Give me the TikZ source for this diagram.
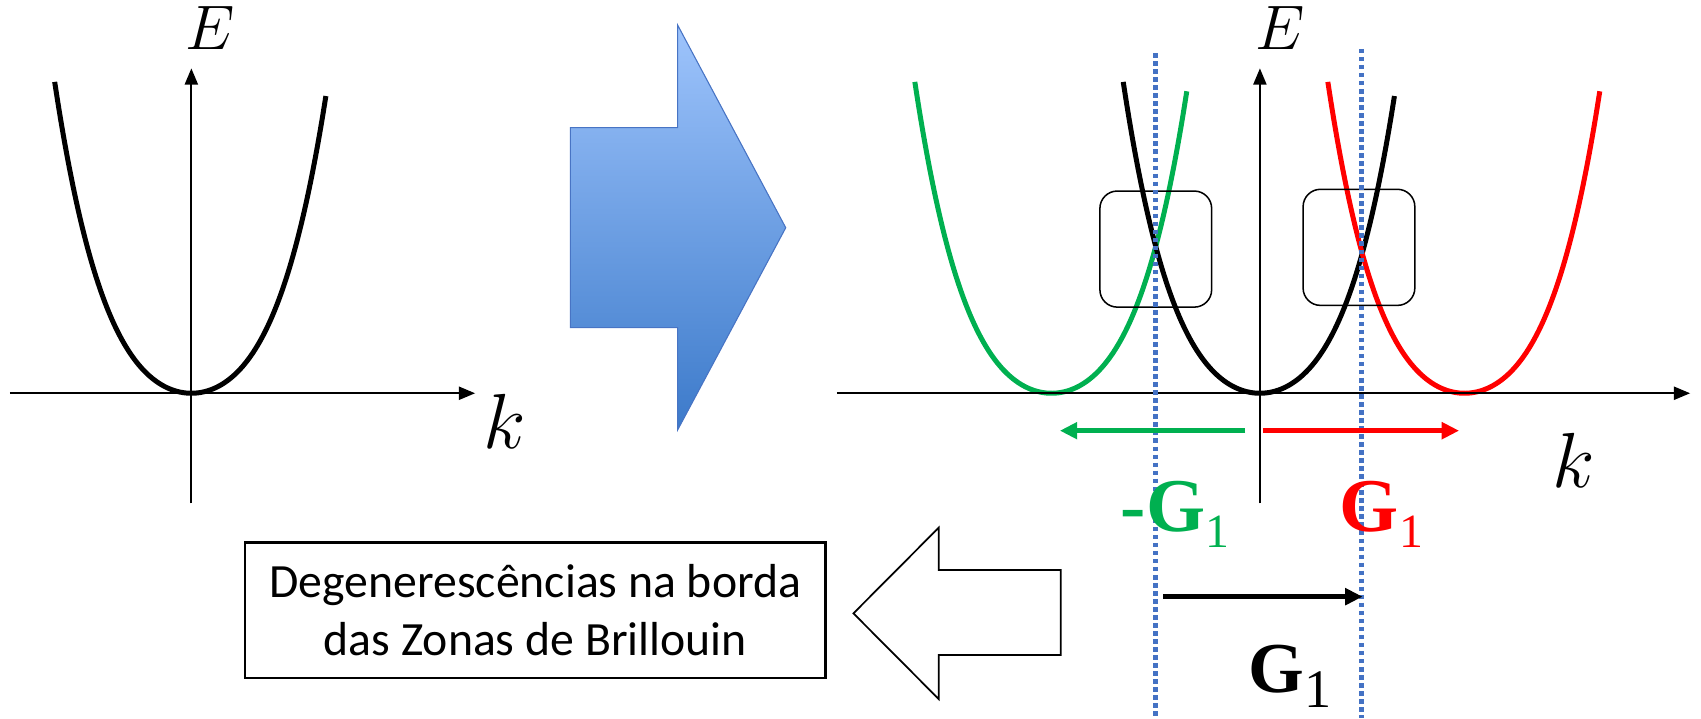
\RequirePackage{fix-cm}
\documentclass[tikz,border=0pt]{standalone}
\usepackage{fontspec}
\newfontfamily\calib{Carlito}
\newfontfamily\tnr{Liberation Serif}
\usetikzlibrary{arrows.meta}
\definecolor{kgreen}{RGB}{0,176,80}
\definecolor{kred}{RGB}{255,0,0}
\definecolor{dotblue}{RGB}{68,114,196}
\definecolor{arrtop}{RGB}{158,196,252}
\definecolor{arrbot}{RGB}{60,122,202}
\definecolor{arredge}{RGB}{72,116,196}
\newcommand{\Gsub}[3]{{\fontsize{#1}{#1}\selectfont\tnr\bfseries G}\raisebox{-#3pt}{\fontsize{#2}{#2}\selectfont\tnr 1}}
\tikzset{
  axis/.style={line width=2pt,-{Triangle[length=15pt,width=12pt]}},
  curve/.style={line width=4.6pt},
  labE/.style={inner sep=0pt,font=\fontsize{58}{58}\selectfont},
  labk/.style={inner sep=0pt,font=\fontsize{72}{72}\selectfont},
  brill/.style={draw=dotblue,line width=4.4pt,dash pattern=on 4.2pt off 3.2pt},
  shiftarrow/.style={line width=4.2pt,-{Triangle[length=16pt,width=15pt]}},
  rbox/.style={draw,line width=1.4pt,rounded corners=16pt,minimum width=103pt,minimum height=107pt,inner sep=0pt},
  glab/.style={inner sep=0pt,anchor=base west},
  textbox/.style={draw,line width=2pt,minimum width=535pt,minimum height=125pt,align=center,inner sep=0pt,
     font=\calib\fontsize{44}{54}\selectfont},
  hollow/.style={draw,line width=1.6pt,fill=white,line join=miter}
}
\begin{document}
\begin{tikzpicture}[x=1pt,y=-1pt]
\useasboundingbox (0,0) rectangle (1568,662);

% ---------- left plot ----------
\coordinate (LxA) at (9,362.5);
\coordinate (LxB) at (438,362.5);
\coordinate (LyA) at (176.4,464);
\coordinate (LyB) at (176.4,63);
\draw[curve] plot[domain=-1:0.985,samples=90,smooth] ({176.4+126*\x},{362.5-287*(0.55*\x*\x+0.45*\x*\x*\x*\x)});
\draw[axis] (LxA) -- (LxB);
\draw[axis] (LyA) -- (LyB);
\node[labE] (E1) at (194,26) {$E$};
\node[labk] (k1) at (465.5,388) {$k$};

% ---------- blue arrow ----------
\path[top color=arrtop,bottom color=arrbot,draw=arredge,line width=1pt]
  (525.8,117.7) -- (624.6,117.7) -- (624.6,23) -- (724.3,209.9) -- (624.6,396.4)
  -- (624.6,302) -- (525.8,302) -- cycle;

% ---------- right plot ----------
\draw[curve,kgreen] plot[domain=-1:0.99,samples=90,smooth] ({969.3+126*\x},{362.5-287*(0.55*\x*\x+0.45*\x*\x*\x*\x)});
\draw[curve] plot[domain=-1:0.985,samples=90,smooth] ({1161.4+126*\x},{362.5-287*(0.55*\x*\x+0.45*\x*\x*\x*\x)});
\draw[curve,kred] plot[domain=-1:0.99,samples=90,smooth] ({1350+126*\x},{362.5-287*(0.55*\x*\x+0.45*\x*\x*\x*\x)});

\coordinate (RxA) at (771.5,362.5);
\coordinate (RxB) at (1558,362.5);
\coordinate (RyA) at (1161.4,464);
\coordinate (RyB) at (1161.4,63);
\draw[axis] (RxA) -- (RxB);
\draw[axis] (RyA) -- (RyB);
\node[labE] (E2) at (1180,26) {$E$};
\node[labk] (k2) at (1451,424) {$k$};

\node[rbox] (B1) at (1065.4,229.6) {};
\node[rbox] (B2) at (1252.7,228) {};

\coordinate (D1t) at (1065.4,49);
\coordinate (D1b) at (1065.4,662);
\coordinate (D2t) at (1254.8,45);
\coordinate (D2b) at (1254.8,662);
\draw[brill] (D1t) -- (D1b);
\draw[brill] (D2t) -- (D2b);

\coordinate (gA) at (1148,397);
\coordinate (gB) at (977,397);
\coordinate (rA) at (1164,397);
\coordinate (rB) at (1345,397);
\draw[shiftarrow,kgreen] (gA) -- (gB);
\draw[shiftarrow,kred] (rA) -- (rB);

\node[glab,text=kgreen] (mG) at (1033,489.5) {{\fontsize{70}{70}\selectfont\tnr\bfseries -}\Gsub{70}{44}{15}};
\node[glab,text=kred] (pG) at (1235,489.5) {\Gsub{70}{44}{15}};

\coordinate (bA) at (1072.5,550);
\coordinate (bB) at (1256,550);
\draw[shiftarrow,line width=4.6pt] (bA) -- (bB);
\node[glab] (G) at (1151,638) {\Gsub{66}{50}{14}};

% ---------- bottom left ----------
\node[textbox] (T) at (493.5,562.5) {Degenerescências na borda\\das Zonas de Brillouin};
\path[hollow] (786.7,565.4) -- (865.3,486.4) -- (865.3,525.4) -- (977.9,525.4)
  -- (977.9,603.8) -- (865.3,603.8) -- (865.3,644.4) -- cycle;
\end{tikzpicture}
\end{document}
